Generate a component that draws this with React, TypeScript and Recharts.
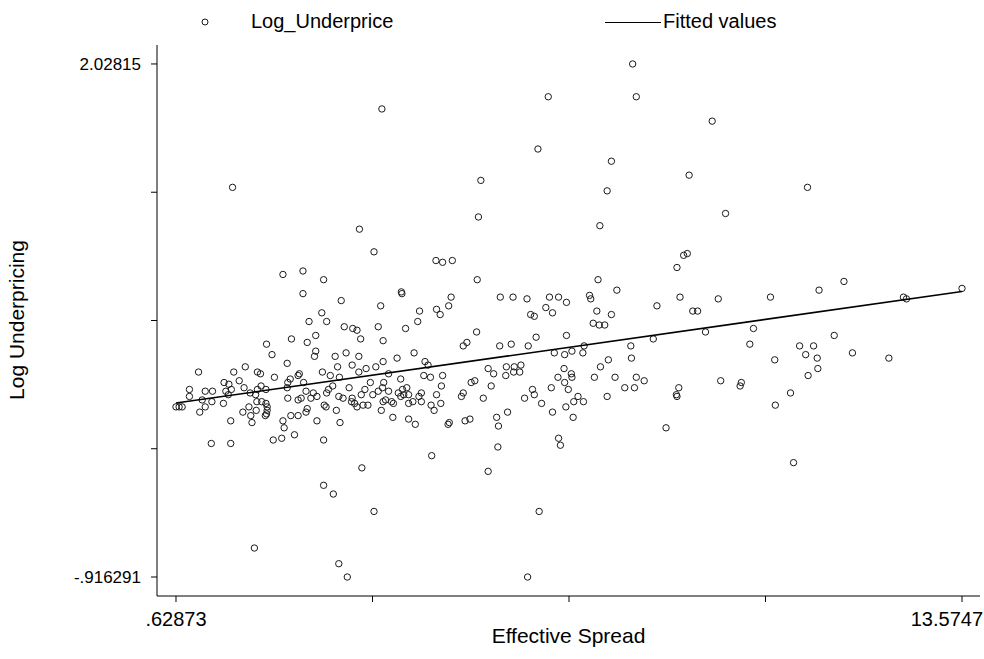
import React from "react";
import { ScatterChart, Scatter, XAxis, YAxis } from "recharts";

// Effective Spread (x) for each IPO
const spread = [
  4.02, 1.56, 3.65, 3.89, 4.91, 2.39, 2.72, 3.06, 2.72, 3.35,
  4.34, 4.35, 8.15, 6.76, 8.21, 9.46, 6.59, 7.8, 5.65, 9.08,
  7.73, 5.61, 7.61, 5.02, 5.18, 9.05, 8.99, 8.88, 5.59, 7.58,
  7.89, 5.16, 5.97, 6.18, 6.41, 6.78, 6.93, 7.06, 7.44, 7.46,
  8.93, 9.56, 11.03, 9.68, 11.63, 11.22, 10.42, 12.61, 12.66, 13.5747,
  11.47, 10.9, 11.13, 11.0, 11.19, 11.77, 12.37, 11.2, 11.04, 10.75,
  10.8, 8.55, 7.56, 7.8, 9.14, 9.22, 7.5, 7.6, 7.69, 7.06,
  9.35, 10.14, 8.49, 10.08, 7.35, 7.15, 7.03, 7.33, 8.12, 8.13,
  7.75, 7.62, 7.02, 10.49, 7.14, 7.15, 7.52, 7.86, 8.21, 8.34,
  8.02, 8.18, 9.6, 9.94, 9.92, 7.03, 7.09, 8.91, 8.87, 8.88,
  7.73, 7.25, 7.18, 7.34, 7.05, 7.17, 10.5, 8.7, 6.93, 6.96,
  6.72, 6.83, 6.92, 6.81, 6.86, 6.83, 6.65, 4.0, 4.64, 4.92,
  4.98, 5.12, 4.61, 4.41, 3.96, 4.04, 3.67, 6.47, 6.53, 5.58,
  5.42, 5.36, 5.96, 6.15, 6.43, 6.56, 4.55, 4.27, 4.04, 4.73,
  4.78, 3.92, 3.76, 4.13, 5.77, 5.86, 6.07, 6.2, 6.31, 6.19,
  6.29, 6.06, 4.71, 4.82, 5.02, 4.33, 3.83, 4.05, 5.0, 5.49,
  5.55, 5.82, 3.74, 3.68, 3.87, 3.96, 4.03, 4.13, 4.29, 4.36,
  4.43, 4.38, 4.33, 4.46, 4.67, 4.63, 4.92, 5.36, 5.33, 6.5,
  6.53, 6.37, 5.69, 4.08, 4.04, 3.71, 3.79, 4.18, 4.21, 4.46,
  4.53, 4.67, 4.99, 4.83, 4.88, 4.01, 6.09, 4.2, 4.46, 4.57,
  5.13, 5.11, 5.39, 5.47, 5.91, 5.94, 5.93, 4.84, 3.03, 2.82,
  3.11, 3.4, 3.54, 3.61, 2.93, 2.53, 2.12, 2.79, 2.93, 2.91,
  2.21, 3.25, 3.43, 3.64, 2.46, 3.29, 3.53, 3.64, 1.0, 1.58,
  1.77, 1.97, 2.02, 3.04, 2.66, 2.64, 2.25, 3.32, 3.17, 1.67,
  1.42, 1.5, 2.51, 2.47, 2.73, 0.85, 0.85, 1.11, 1.23, 1.45,
  1.54, 1.75, 1.85, 1.97, 2.03, 2.11, 2.46, 2.77, 2.89, 3.11,
  3.14, 3.21, 3.48, 1.94, 1.49, 1.22, 1.06, 1.41, 1.11, 0.62873,
  0.68, 0.73, 1.02, 1.96, 2.04, 2.11, 2.47, 2.64, 2.69, 2.85,
  2.95, 3.31, 3.38, 3.53, 3.52, 3.57, 3.61, 3.1, 3.07, 2.79,
  2.77, 2.13, 2.13, 2.12, 2.1, 1.73, 1.83, 1.95, 1.86, 1.88,
  3.27, 1.53, 2.52, 2.64, 2.39, 2.41, 2.95, 3.33, 2.58, 2.23,
  2.37, 3.06, 1.21, 1.53, 3.69, 5.77, 3.06, 3.22, 3.89, 6.61,
  1.92, 3.31, 3.45, 6.42,
];

// Log underpricing (y), same order
const logUnderprice = [
  1.77, 1.32, 1.08, 0.95, 0.9, 0.82, 0.84, 0.79, 0.71, 0.67,
  0.72, 0.71, 2.02815, 1.84, 1.84, 1.7, 1.54, 1.47, 1.36, 1.39,
  1.3, 1.15, 1.1, 0.89, 0.9, 0.94, 0.93, 0.86, 0.79, 0.79,
  0.73, 0.69, 0.69, 0.69, 0.68, 0.69, 0.69, 0.66, 0.7, 0.68,
  0.69, 0.68, 1.32, 1.17, 0.78, 0.73, 0.69, 0.69, 0.68, 0.74,
  0.47, 0.41, 0.41, 0.36, 0.34, 0.37, 0.34, 0.28, 0.24, 0.14,
  -0.26, 0.64, 0.61, 0.59, 0.61, 0.61, 0.54, 0.53, 0.53, 0.47,
  0.49, 0.51, 0.45, 0.42, 0.41, 0.38, 0.36, 0.37, 0.41, 0.34,
  0.33, 0.29, 0.28, 0.33, 0.25, 0.23, 0.23, 0.23, 0.23, 0.21,
  0.17, 0.17, 0.21, 0.2, 0.18, 0.2, 0.16, 0.17, 0.13, 0.12,
  0.12, 0.12, 0.09, 0.09, 0.06, 0.0, 0.07, -0.06, -0.12, -0.16,
  0.63, 0.6, 0.23, 0.17, 0.37, 0.03, 0.08, 0.64, 0.61, 0.62,
  0.59, 0.64, 0.55, 0.51, 0.52, 0.44, 0.45, 0.59, 0.58, 0.49,
  0.43, 0.41, 0.41, 0.42, 0.41, 0.46, 0.37, 0.34, 0.32, 0.32,
  0.3, 0.29, 0.28, 0.25, 0.28, 0.25, 0.29, 0.29, 0.3, 0.26,
  0.26, 0.24, 0.24, 0.23, 0.24, 0.22, 0.2, 0.2, 0.18, 0.2,
  0.21, 0.18, 0.16, 0.13, 0.13, 0.15, 0.17, 0.15, 0.14, 0.16,
  0.17, 0.13, 0.12, 0.13, 0.14, 0.12, 0.13, 0.14, 0.12, 0.16,
  0.13, 0.11, 0.11, 0.1, 0.09, 0.07, 0.07, 0.09, 0.08, 0.08,
  0.09, 0.09, 0.08, 0.07, 0.04, 0.04, 0.03, 0.0, -0.01, -0.04,
  -0.03, -0.04, -0.02, -0.01, 0.0, -0.05, -0.17, -0.22, 0.6, 0.55,
  0.55, 0.52, 0.51, 0.5, 0.47, 0.45, 0.42, 0.43, 0.38, 0.35,
  0.36, 0.35, 0.37, 0.35, 0.31, 0.29, 0.3, 0.26, 0.26, 0.26,
  0.29, 0.26, 0.25, 0.26, 0.25, 0.24, 0.23, 0.23, 0.24, 0.21,
  0.2, 0.19, 0.22, 0.2, 0.2, 0.16, 0.12, 0.15, 0.15, 0.15,
  0.16, 0.17, 0.14, 0.16, 0.18, 0.16, 0.17, 0.15, 0.14, 0.14,
  0.16, 0.18, 0.17, 0.13, 0.13, 0.09, 0.1, 0.08, 0.06, 0.06,
  0.06, 0.06, 0.03, 0.09, 0.09, 0.08, 0.11, 0.1, 0.11, 0.11,
  0.12, 0.12, 0.11, 0.11, 0.09, 0.08, 0.06, 0.06, 0.07, 0.05,
  0.03, 0.06, 0.04, 0.02, 0.01, 0.03, 0.06, 0.04, 0.01, -0.03,
  0.04, -0.02, 0.01, 0.01, -0.02, -0.06, -0.02, -0.03, -0.1, -0.13,
  -0.12, -0.13, -0.15, -0.15, -0.29, -0.31, -0.39, -0.44, -0.54, -0.54,
  -0.75, -0.84, -0.916291, -0.916291,
];

// fitted regression line, endpoints
const fitX = [0.62873, 13.5747];
const fitY = [0.082, 0.722];

const xTicks = [0.62873, 3.86522, 7.10172, 10.33821, 13.5747];
const xTickLabels = [".62873", "", "", "", "13.5747"];
const yTicks = [-0.916291, -0.180181, 0.555929, 1.29204, 2.02815];
const yTickLabels = ["-.916291", "", "", "", "2.02815"];
const xDomain = [0.3158, 13.871];
const yDomain = [-1.0253, 2.137];

const points = spread.map((x, i) => ({ x, y: logUnderprice[i] }));
const fitted = fitX.map((x, i) => ({ x, y: fitY[i] }));

const hollow = (p: any) => (
  <circle cx={p.cx} cy={p.cy} r={3.2} fill="none" stroke="#1a1a1a" strokeWidth={1} />
);

const XTick = (p: any) => {
  const i = xTicks.indexOf(p.payload.value);
  const label = xTickLabels[i];
  if (!label) return <g />;
  const last = i === xTicks.length - 1;
  return (
    <text x={last ? 983 : p.x} y={p.y} dy="0.75em" textAnchor={last ? "end" : "middle"} fontSize={20} fill="#000">
      {label}
    </text>
  );
};

const YTick = (p: any) => {
  const i = yTicks.indexOf(p.payload.value);
  const label = yTickLabels[i];
  if (!label) return <g />;
  return (
    <text x={p.x} y={p.y} dy="0.36em" textAnchor="end" fontSize={17} fill="#000">
      {label}
    </text>
  );
};

export default function App() {
  const font = '"Liberation Sans", Arial, sans-serif';
  return (
    <div style={{ position: "absolute", left: 0, top: 0, width: 984, height: 659, background: "#fff", fontFamily: font }}>
      <ScatterChart width={984} height={659} margin={{ top: 45, right: 4, bottom: 0, left: 0 }}>
        <XAxis
          type="number"
          dataKey="x"
          domain={xDomain}
          ticks={xTicks}
          allowDataOverflow
          height={63}
          tickSize={6}
          tickMargin={9}
          axisLine={{ stroke: "#000" }}
          tickLine={{ stroke: "#000" }}
          tick={<XTick />}
          interval={0}
        />
        <YAxis
          type="number"
          dataKey="y"
          domain={yDomain}
          ticks={yTicks}
          allowDataOverflow
          width={157}
          tickSize={6}
          tickMargin={10}
          axisLine={{ stroke: "#000" }}
          tickLine={{ stroke: "#000" }}
          tick={<YTick />}
          interval={0}
        />
        <Scatter data={points} shape={hollow} isAnimationActive={false} />
        <Scatter
          data={fitted}
          line={{ stroke: "#000", strokeWidth: 1.6 }}
          shape={() => <g />}
          isAnimationActive={false}
        />
      </ScatterChart>

      {/* legend */}
      <div style={{ position: "absolute", top: 0, left: 0, width: 984, height: 40, fontSize: 20, color: "#000" }}>
        <svg width={10} height={10} style={{ position: "absolute", left: 200, top: 17 }}>
          <circle cx={5} cy={5} r={3} fill="none" stroke="#1a1a1a" strokeWidth={1} />
        </svg>
        <span style={{ position: "absolute", left: 251, top: 10 }}>Log_Underprice</span>
        <div style={{ position: "absolute", left: 605, top: 22, width: 56, borderTop: "1px solid #000" }} />
        <span style={{ position: "absolute", left: 663, top: 10 }}>Fitted values</span>
      </div>

      {/* axis titles */}
      <div style={{ position: "absolute", left: 157, width: 823, top: 624, textAlign: "center", fontSize: 21 }}>
        Effective Spread
      </div>
      <div
        style={{
          position: "absolute",
          left: 17,
          top: 320,
          transform: "translate(-50%, -50%) rotate(-90deg)",
          whiteSpace: "nowrap",
          fontSize: 21,
        }}
      >
        Log Underpricing
      </div>
    </div>
  );
}
